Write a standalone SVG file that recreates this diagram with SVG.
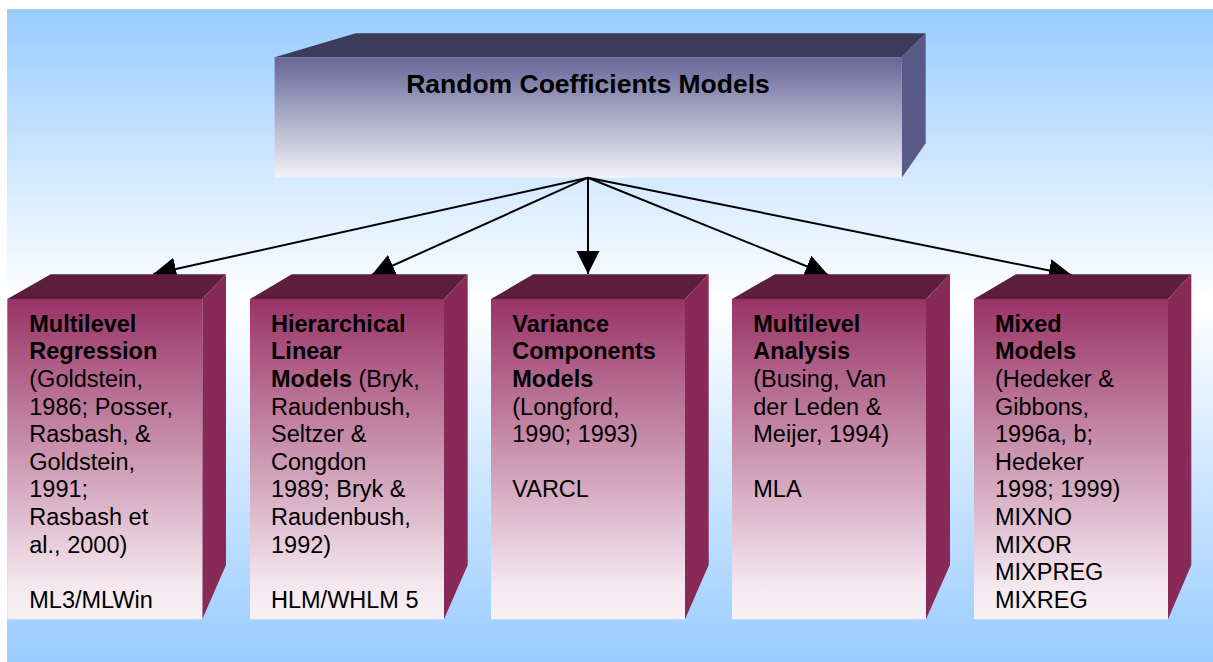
<svg xmlns="http://www.w3.org/2000/svg" width="1213" height="662" viewBox="0 0 1213 662">
  <style>
    .title { font-family: "Liberation Sans", Arial, sans-serif; font-size: 26.5px; font-weight: bold; fill: #000; }
    .label { font-family: "Liberation Sans", Arial, sans-serif; font-size: 23.5px; fill: #000; }
    .b { font-weight: bold; }
    .conn { stroke: #000; stroke-width: 2; fill: none; marker-end: url(#head); }
    .m-front { fill: url(#mFront); }
    .m-top { fill: #5c1e3c; }
    .m-side { fill: #882a58; }
  </style>
  <defs>
    <linearGradient id="bg" x1="0" y1="0" x2="0" y2="1">
      <stop offset="0" stop-color="#99ccff"/>
      <stop offset="0.45" stop-color="#ffffff"/>
      <stop offset="1" stop-color="#99ccff"/>
    </linearGradient>
    <linearGradient id="topFront" x1="0" y1="0" x2="0" y2="1">
      <stop offset="0" stop-color="#666699"/>
      <stop offset="1" stop-color="#f2f2f7"/>
    </linearGradient>
    <linearGradient id="mFront" x1="0" y1="0" x2="0" y2="1">
      <stop offset="0" stop-color="#993366"/>
      <stop offset="0.9" stop-color="#f5e9ef"/>
      <stop offset="1" stop-color="#f8f0f4"/>
    </linearGradient>
    <marker id="head" markerUnits="userSpaceOnUse" markerWidth="24" markerHeight="24" refX="23" refY="11.5" orient="auto">
      <path d="M0,0 L23,11.5 L0,23 Z" fill="#000"/>
    </marker>
  </defs>

  <!-- backdrop -->
  <rect x="7" y="9" width="1206" height="653" fill="url(#bg)"/>

  <!-- root box -->
  <g id="root">
    <polygon points="274.6,57.3 355.8,33.3 925.7,33.3 901.8,57.3" fill="#3c3c5a"/>
    <polygon points="901.8,57.3 925.7,33.3 925.7,143.3 901.8,177.7" fill="#5a5a88"/>
    <rect x="274.6" y="57.3" width="627.2" height="120.4" fill="url(#topFront)"/>
    <text class="title" x="588" y="93" text-anchor="middle">Random Coefficients Models</text>
  </g>

  <!-- connectors -->
  <g id="connectors">
    <line class="conn" x1="588" y1="177.7" x2="153.3" y2="274"/>
    <line class="conn" x1="588" y1="177.7" x2="371.7" y2="275"/>
    <line class="conn" x1="588" y1="177.7" x2="588" y2="274"/>
    <line class="conn" x1="588" y1="177.7" x2="828.3" y2="275"/>
    <line class="conn" x1="588" y1="177.7" x2="1071.7" y2="275"/>
  </g>

  <!-- child boxes -->
  <g id="multilevel-regression">
    <polygon class="m-top" points="7.3,299 50.7,274.3 226,274.3 202.3,299"/>
    <polygon class="m-side" points="202.3,299 226,274.3 226,565 202.3,619.3"/>
    <rect class="m-front" x="7.3" y="299" width="195" height="320.3"/>
    <text class="label">
      <tspan class="b" x="29.3" y="331.7">Multilevel</tspan>
      <tspan class="b" x="29.3" y="359.3">Regression</tspan>
      <tspan x="29.3" y="386.9">(Goldstein,</tspan>
      <tspan x="29.3" y="414.5">1986; Posser,</tspan>
      <tspan x="29.3" y="442.1">Rasbash, &amp;</tspan>
      <tspan x="29.3" y="469.7">Goldstein,</tspan>
      <tspan x="29.3" y="497.3">1991;</tspan>
      <tspan x="29.3" y="524.9">Rasbash et</tspan>
      <tspan x="29.3" y="552.5">al., 2000)</tspan>
      <tspan x="29.3" y="607.7">ML3/MLWin</tspan>
    </text>
  </g>

  <g id="hierarchical-linear-models">
    <polygon class="m-top" points="250,299 291.7,274.3 467.7,274.3 444,299"/>
    <polygon class="m-side" points="444,299 467.7,274.3 467.7,565 444,619.3"/>
    <rect class="m-front" x="250" y="299" width="194" height="320.3"/>
    <text class="label">
      <tspan class="b" x="271" y="331.7">Hierarchical</tspan>
      <tspan class="b" x="271" y="359.3">Linear</tspan>
      <tspan x="271" y="386.9"><tspan class="b">Models</tspan> (Bryk,</tspan>
      <tspan x="271" y="414.5">Raudenbush,</tspan>
      <tspan x="271" y="442.1">Seltzer &amp;</tspan>
      <tspan x="271" y="469.7">Congdon</tspan>
      <tspan x="271" y="497.3">1989; Bryk &amp;</tspan>
      <tspan x="271" y="524.9">Raudenbush,</tspan>
      <tspan x="271" y="552.5">1992)</tspan>
      <tspan x="271" y="607.7">HLM/WHLM 5</tspan>
    </text>
  </g>

  <g id="variance-components-models">
    <polygon class="m-top" points="491,299 533.3,274.3 708.7,274.3 685,299"/>
    <polygon class="m-side" points="685,299 708.7,274.3 708.7,565 685,619.3"/>
    <rect class="m-front" x="491" y="299" width="194" height="320.3"/>
    <text class="label">
      <tspan class="b" x="512.3" y="331.7">Variance</tspan>
      <tspan class="b" x="512.3" y="359.3">Components</tspan>
      <tspan class="b" x="512.3" y="386.9">Models</tspan>
      <tspan x="512.3" y="414.5">(Longford,</tspan>
      <tspan x="512.3" y="442.1">1990; 1993)</tspan>
      <tspan x="512.3" y="497.3">VARCL</tspan>
    </text>
  </g>

  <g id="multilevel-analysis">
    <polygon class="m-top" points="732,299 775,274.3 950,274.3 926,299"/>
    <polygon class="m-side" points="926,299 950,274.3 950,565 926,619.3"/>
    <rect class="m-front" x="732" y="299" width="194" height="320.3"/>
    <text class="label">
      <tspan class="b" x="753.3" y="331.7">Multilevel</tspan>
      <tspan class="b" x="753.3" y="359.3">Analysis</tspan>
      <tspan x="753.3" y="386.9">(Busing, Van</tspan>
      <tspan x="753.3" y="414.5">der Leden &amp;</tspan>
      <tspan x="753.3" y="442.1">Meijer, 1994)</tspan>
      <tspan x="753.3" y="497.3">MLA</tspan>
    </text>
  </g>

  <g id="mixed-models">
    <polygon class="m-top" points="974,299 1016,274.3 1191.3,274.3 1168,299"/>
    <polygon class="m-side" points="1168,299 1191.3,274.3 1191.3,565 1168,619.3"/>
    <rect class="m-front" x="974" y="299" width="194" height="320.3"/>
    <text class="label">
      <tspan class="b" x="995" y="331.7">Mixed</tspan>
      <tspan class="b" x="995" y="359.3">Models</tspan>
      <tspan x="995" y="386.9">(Hedeker &amp;</tspan>
      <tspan x="995" y="414.5">Gibbons,</tspan>
      <tspan x="995" y="442.1">1996a, b;</tspan>
      <tspan x="995" y="469.7">Hedeker</tspan>
      <tspan x="995" y="497.3">1998; 1999)</tspan>
      <tspan x="995" y="524.9">MIXNO</tspan>
      <tspan x="995" y="552.5">MIXOR</tspan>
      <tspan x="995" y="580.1">MIXPREG</tspan>
      <tspan x="995" y="607.7">MIXREG</tspan>
    </text>
  </g>
</svg>
